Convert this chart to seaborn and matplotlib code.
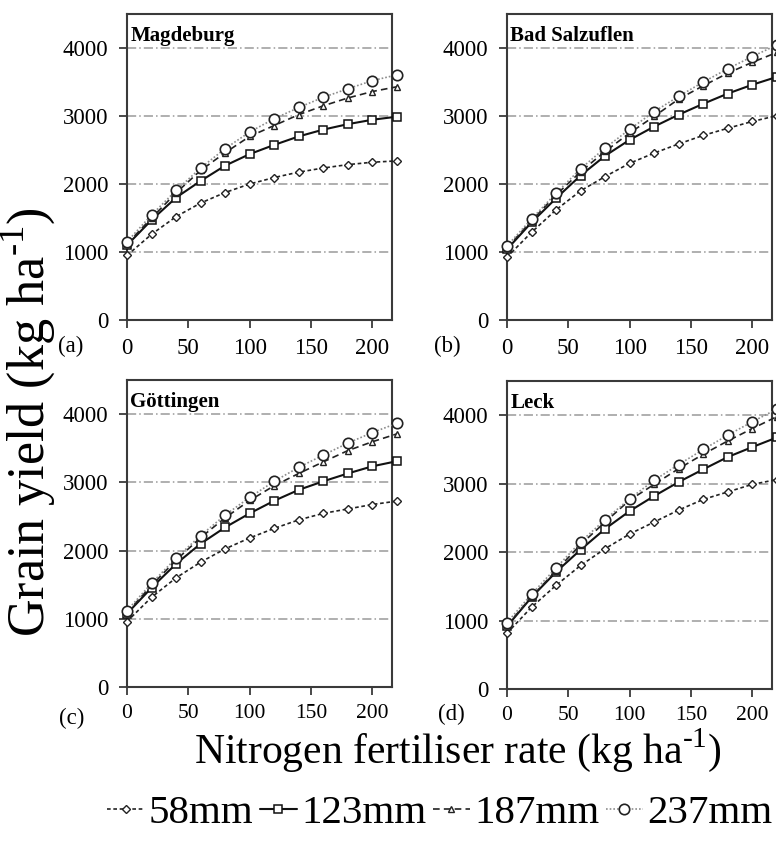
import numpy as np
import pandas as pd
import matplotlib
matplotlib.use("Agg")
import matplotlib.pyplot as plt
import seaborn as sns

# Nitrogen fertiliser rates (kg ha-1)
n_rate = [0, 20, 40, 60, 80, 100, 120, 140, 160, 180, 200, 220]

sites = ["Magdeburg", "Bad Salzuflen", "Göttingen", "Leck"]
panel_tags = ["(a)", "(b)", "(c)", "(d)"]
rain_labels = ["58mm", "123mm", "187mm", "237mm"]

# Grain yield (kg ha-1) per site and seasonal rainfall
magdeburg_58 = [950, 1260, 1520, 1720, 1875, 2000, 2095, 2175, 2235, 2285, 2320, 2340]
magdeburg_123 = [1100, 1470, 1800, 2045, 2270, 2440, 2575, 2700, 2800, 2880, 2945, 2990]
magdeburg_187 = [1120, 1500, 1870, 2200, 2460, 2700, 2860, 3020, 3150, 3265, 3360, 3430]
magdeburg_237 = [1150, 1545, 1905, 2235, 2520, 2765, 2960, 3125, 3275, 3400, 3520, 3605]

salzuflen_58 = [925, 1290, 1620, 1900, 2110, 2305, 2455, 2590, 2715, 2820, 2920, 3005]
salzuflen_123 = [1040, 1435, 1790, 2125, 2415, 2650, 2845, 3020, 3180, 3330, 3460, 3575]
salzuflen_187 = [1060, 1460, 1840, 2180, 2480, 2750, 2995, 3250, 3445, 3630, 3790, 3935]
salzuflen_237 = [1090, 1485, 1865, 2225, 2530, 2805, 3065, 3290, 3500, 3695, 3875, 4045]

goettingen_58 = [960, 1315, 1600, 1830, 2025, 2185, 2325, 2450, 2545, 2610, 2675, 2725]
goettingen_123 = [1075, 1455, 1805, 2100, 2340, 2545, 2730, 2890, 3015, 3130, 3235, 3310]
goettingen_187 = [1090, 1490, 1860, 2190, 2480, 2735, 2950, 3130, 3300, 3465, 3595, 3710]
goettingen_237 = [1120, 1520, 1890, 2220, 2520, 2780, 3015, 3220, 3400, 3575, 3730, 3865]

leck_58 = [815, 1195, 1515, 1805, 2050, 2265, 2440, 2615, 2770, 2880, 2990, 3060]
leck_123 = [915, 1340, 1710, 2035, 2340, 2600, 2820, 3025, 3210, 3390, 3535, 3675]
leck_187 = [930, 1345, 1730, 2110, 2440, 2760, 2990, 3220, 3430, 3625, 3805, 3980]
leck_237 = [970, 1385, 1770, 2150, 2475, 2780, 3050, 3280, 3500, 3710, 3905, 4090]

site_series = [
    [magdeburg_58, magdeburg_123, magdeburg_187, magdeburg_237],
    [salzuflen_58, salzuflen_123, salzuflen_187, salzuflen_237],
    [goettingen_58, goettingen_123, goettingen_187, goettingen_237],
    [leck_58, leck_123, leck_187, leck_237],
]

rows = []
for site, series in zip(sites, site_series):
    for rain, vals in zip(rain_labels, series):
        for n, y in zip(n_rate, vals):
            rows.append({"site": site, "rain": rain, "N": n, "yield": y})
df = pd.DataFrame(rows)

# line / marker style for each rainfall scenario
styles = {
    "58mm": dict(marker="D", markersize=4.2, linestyle=(0, (2.2, 1.6)), color="#222222", lw=1.2,
                 markeredgewidth=1.0),
    "123mm": dict(marker="s", markersize=5.5, linestyle="-", color="#111111", lw=1.5,
                  markeredgewidth=1.1),
    "187mm": dict(marker="^", markersize=5.0, linestyle=(0, (4, 2.5)), color="#222222", lw=1.2,
                  markeredgewidth=1.0),
    "237mm": dict(marker="o", markersize=7.5, linestyle=(0, (1, 1.2)), color="#8c8c8c", lw=1.2,
                  markeredgewidth=1.2, markeredgecolor="#222222"),
}

sns.set_style("white")
plt.rcParams["font.family"] = ["Liberation Serif", "DejaVu Serif"]
plt.rcParams["mathtext.fontset"] = "custom"
plt.rcParams["mathtext.rm"] = "Liberation Serif"
plt.rcParams["text.color"] = "black"

W, H = 776, 843
fig = plt.figure(figsize=(W / 100, H / 100), dpi=100)

# axes rectangles in pixels: left, top, right, bottom
boxes = [
    (127, 14, 392, 320),
    (507, 14, 772, 320),
    (127, 380, 392, 687),
    (507, 381, 772, 689),
]

spine_col = "#3a3a3a"
axes = []
for i, (l, t, r, b) in enumerate(boxes):
    ax = fig.add_axes([l / W, 1 - b / H, (r - l) / W, (b - t) / H])
    axes.append(ax)
    sub = df[df["site"] == sites[i]]
    for rain in rain_labels:
        st = dict(styles[rain])
        mec = st.pop("markeredgecolor", st["color"])
        sns.lineplot(data=sub[sub["rain"] == rain], x="N", y="yield", ax=ax,
                     markerfacecolor="white", markeredgecolor=mec,
                     clip_on=False, zorder=3, legend=False, label=rain, **st)
    ax.set_xlim(0, 216)
    ax.set_ylim(0, 4500)
    ax.set_xticks([0, 50, 100, 150, 200])
    ax.set_yticks([0, 1000, 2000, 3000, 4000])
    ax.set_xlabel("")
    ax.set_ylabel("")
    for y in [1000, 2000, 3000, 4000]:
        ax.axhline(y, color="#9a9a9a", lw=1.1, linestyle=(0, (6, 2, 1, 2)), zorder=1)
    for s in ax.spines.values():
        s.set_color(spine_col)
        s.set_linewidth(1.5)
    ax.tick_params(axis="both", direction="out", length=6, width=1.3, color=spine_col,
                   labelsize=16.5, labelcolor="black", bottom=True, left=True)
    ax.tick_params(axis="x", pad=7 if i < 2 else 6, labelsize=16.5 if i < 2 else 15.5)
    ax.tick_params(axis="y", pad=7.5)
    ax.text(0.012, 0.962, sites[i], transform=ax.transAxes, ha="left", va="top",
            fontsize=15, fontweight="bold")

# panel tags next to the x tick labels
tag_pos = [(71, 346), (447, 346), (72, 718), (451, 714)]
for tag, (x, y) in zip(panel_tags, tag_pos):
    fig.text(x / W, 1 - y / H, tag, ha="center", va="center", fontsize=16.5)

unit = r"(kg ha$^{\mathregular{\text{-}1}}$)"
fig.text(28 / W, 1 - 422 / H, "Grain yield " + unit, rotation=90,
         ha="center", va="center", fontsize=37.5)
fig.text(458 / W, 1 - 750 / H, "Nitrogen fertiliser rate " + unit,
         ha="center", va="center", fontsize=30)

handles = axes[0].get_lines()[:4]
fig.legend(handles, rain_labels, loc="center", bbox_to_anchor=(440 / W, 1 - 813 / H),
           ncol=4, frameon=False, fontsize=29.5, handlelength=0.9, handletextpad=0.12,
           columnspacing=0.15, borderpad=0, borderaxespad=0)

fig.savefig("out.png", dpi=100)
